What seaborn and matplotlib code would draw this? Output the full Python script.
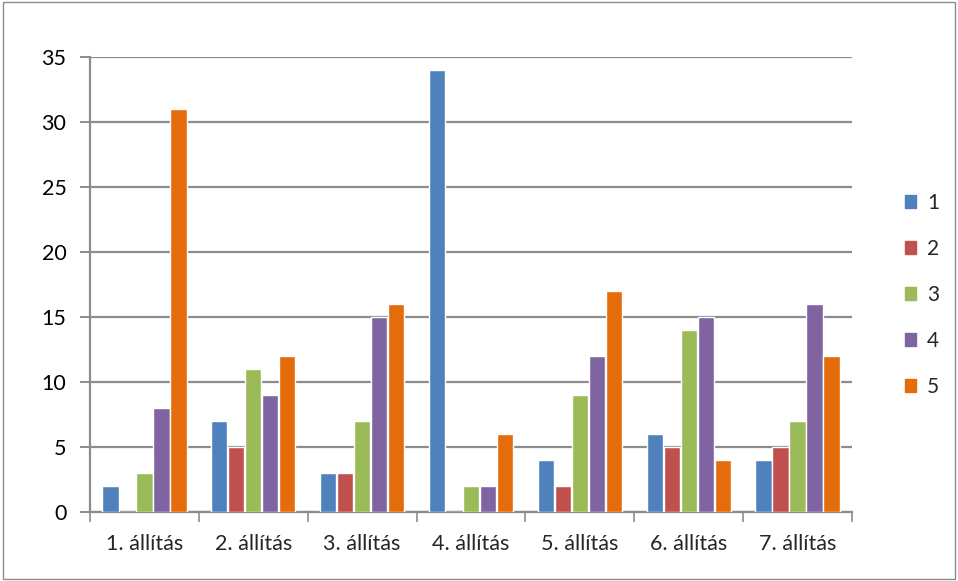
import matplotlib
matplotlib.use("Agg")
import matplotlib.pyplot as plt
import matplotlib.patches as mpatches
import seaborn as sns
import pandas as pd

# adatok
allitasok = ["1. állítás", "2. állítás", "3. állítás", "4. állítás",
             "5. állítás", "6. állítás", "7. állítás"]
ertek_1 = [2, 7, 3, 34, 4, 6, 4]
ertek_2 = [0, 5, 3, 0, 2, 5, 5]
ertek_3 = [3, 11, 7, 2, 9, 14, 7]
ertek_4 = [8, 9, 15, 2, 12, 15, 16]
ertek_5 = [31, 12, 16, 6, 17, 4, 12]
sorozatok = ["1", "2", "3", "4", "5"]
szinek = ["#4F81BD", "#C0504D", "#9BBB59", "#8064A2", "#E46C0A"]

sorok = []
for s, vals in zip(sorozatok, [ertek_1, ertek_2, ertek_3, ertek_4, ertek_5]):
    for a, v in zip(allitasok, vals):
        sorok.append({"allitas": a, "sorozat": s, "ertek": v})
df = pd.DataFrame(sorok)

sns.set_style("white")
plt.rcParams["font.family"] = ["Lato", "DejaVu Sans"]

fig = plt.figure(figsize=(9.58, 5.81), dpi=100)
ax = fig.add_axes([90 / 958, 69 / 581, 762 / 958, 455 / 581])

sns.barplot(data=df, x="allitas", y="ertek", hue="sorozat", palette=szinek,
            saturation=1, width=0.78, gap=0.04, ax=ax, legend=False, zorder=3)

ax.set_ylim(0, 35)
ax.set_yticks(range(0, 36, 5))
ax.set_xlim(-0.5, 6.5)
ax.yaxis.grid(True, color="#8C8C8C", linewidth=1.6, zorder=0)
ax.set_axisbelow(True)
ax.set_xlabel("")
ax.set_ylabel("")
for side in ["top", "right"]:
    ax.spines[side].set_visible(False)
for side in ["left", "bottom"]:
    ax.spines[side].set_color("#8C8C8C")
    ax.spines[side].set_linewidth(1.6)
ax.tick_params(axis="y", labelsize=15.5, colors="#000000", left=True, length=7,
               color="#8C8C8C", width=1.4, pad=10)
ax.tick_params(axis="x", labelsize=15.5, bottom=False, pad=12)
ax.set_xticks([i + 0.5 for i in range(-1, 7)], minor=True)
ax.tick_params(axis="x", which="minor", bottom=True, length=7, color="#8C8C8C", width=1.2)

kezelok = [mpatches.Patch(color=c, label=s) for s, c in zip(sorozatok, szinek)]
fig.legend(handles=kezelok, loc="center left", bbox_to_anchor=(905 / 958, 286 / 581),
           frameon=False, fontsize=15, handlelength=0.55, handleheight=0.55,
           labelspacing=1.25, handletextpad=0.5, borderaxespad=0, borderpad=0)

fig.patches.append(mpatches.Rectangle((0.003, 0.003), 0.994, 0.994, transform=fig.transFigure,
                                      fill=False, edgecolor="#8C8C8C", linewidth=1))

fig.savefig("out.png", dpi=100)
